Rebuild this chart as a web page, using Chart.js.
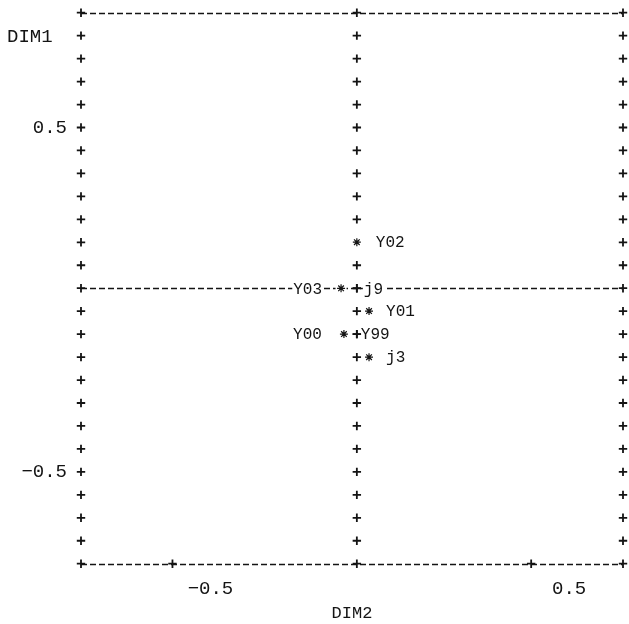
<!DOCTYPE html>
<html>
<head>
<meta charset="utf-8">
<script src="https://cdn.jsdelivr.net/npm/chart.js@4/dist/chart.umd.min.js"></script>
<style>
  html, body { margin: 0; padding: 0; background: #fff; }
  canvas { display: block; }
</style>
</head>
<body>
<canvas id="plot" width="629" height="624"></canvas>
<script>
// Printer-style plot of DIM1 (vertical) against DIM2 (horizontal)

// labelled points drawn with an asterisk
const pointNames = ['Y02', 'Y03', 'Y01', 'Y00', 'j3'];
const pointDim2  = [0.014, -0.030, 0.048, -0.022, 0.048];
const pointDim1  = [0.167, 0.033, -0.033, -0.100, -0.167];

// labelled points that sit on the vertical reference line
const hiddenNames = ['j9', 'Y99'];
const hiddenDim2  = [0.014, 0.014];
const hiddenDim1  = [0.033, -0.100];

// labelled tick values
const xTickValues = [-0.5, 0.5];
const yTickValues = [0.5, -0.5];

// reference lines
const refDim2 = 0.014;
const refDim1 = 0.033;

// axis extents and the printer row step
const xRange = [-0.755, 0.756];
const yRange = [-0.7667, 0.8333];
const rowStep = 1 / 15;

const ink = '#141414';
const mono = "'Liberation Mono', 'DejaVu Sans Mono', monospace";
const labelFont = `16px ${mono}`;

const labelPlacement = {
  Y02: { side: 'right', gap: 19 },
  Y03: { side: 'left',  gap: 19 },
  Y01: { side: 'right', gap: 17 },
  Y00: { side: 'left',  gap: 22 },
  j3:  { side: 'right', gap: 17 },
  j9:  { side: 'right', gap: 7 },
  Y99: { side: 'right', gap: 4 }
};

const fmt = v => (v < 0 ? '\u2212' : '') + Math.abs(v).toFixed(1);

// one printer row per step between the axis limits
function rowValues() {
  const n = Math.round((yRange[1] - yRange[0]) / rowStep);
  return Array.from({ length: n + 1 }, (_, i) => yRange[0] + i * rowStep);
}

function labelItems(chart) {
  const items = [];
  chart.data.datasets.forEach((ds, di) => {
    const meta = chart.getDatasetMeta(di);
    meta.data.forEach((el, i) => {
      const name = ds.names[i];
      const p = labelPlacement[name];
      const right = p.side === 'right';
      items.push({
        text: name,
        px: el.x,
        py: el.y,
        star: ds.pointStyle === 'star',
        x: right ? el.x + p.gap : el.x - p.gap,
        align: right ? 'left' : 'right'
      });
    });
  });
  return items;
}

function plus(ctx, px, py) {
  const h = 4.2;
  ctx.beginPath();
  ctx.moveTo(px - h, py); ctx.lineTo(px + h, py);
  ctx.moveTo(px, py - h); ctx.lineTo(px, py + h);
  ctx.stroke();
}

const printerPlot = {
  id: 'printerPlot',
  beforeDatasetsDraw(chart) {
    const { ctx, chartArea: a, scales: { x, y } } = chart;
    ctx.save();

    // dashed rows: top and bottom frame, horizontal reference
    ctx.strokeStyle = ink;
    ctx.lineWidth = 1.4;
    ctx.setLineDash([6, 3]);
    for (const v of [yRange[1], yRange[0], refDim1]) {
      const py = Math.round(y.getPixelForValue(v)) + 0.5;
      ctx.beginPath();
      ctx.moveTo(a.left, py);
      ctx.lineTo(a.right, py);
      ctx.stroke();
    }
    ctx.setLineDash([]);

    // blank cells behind labels
    ctx.font = labelFont;
    const items = labelItems(chart);
    ctx.fillStyle = '#fff';
    for (const it of items) {
      const w = ctx.measureText(it.text).width;
      const x0 = it.align === 'left' ? it.x : it.x - w;
      ctx.fillRect(x0 - 1, it.py - 8, w + 2, 16);
    }

    // plus marks along the frame and the vertical reference line
    ctx.strokeStyle = ink;
    ctx.lineWidth = 1.8;
    const xv = x.getPixelForValue(refDim2);
    for (const v of rowValues()) {
      const py = y.getPixelForValue(v);
      plus(ctx, a.left, py);
      plus(ctx, a.right, py);
      plus(ctx, xv, py);
    }
    for (const v of xTickValues) plus(ctx, x.getPixelForValue(v), a.bottom);

    // an asterisk replaces whatever occupies its cell
    ctx.fillStyle = '#fff';
    for (const it of items) {
      if (it.star) ctx.fillRect(it.px - 5.5, it.py - 6, 11, 12);
    }

    // point labels
    ctx.fillStyle = ink;
    ctx.textBaseline = 'middle';
    for (const it of items) {
      ctx.textAlign = it.align;
      ctx.fillText(it.text, it.x, it.py + 1);
    }

    // vertical axis name
    ctx.font = `19px ${mono}`;
    ctx.textAlign = 'left';
    ctx.fillText('DIM1', 7, y.getPixelForValue(yRange[1] - rowStep) + 1);

    ctx.restore();
  }
};

new Chart(document.getElementById('plot'), {
  type: 'scatter',
  data: {
    datasets: [
      {
        names: pointNames,
        data: pointNames.map((n, i) => ({ x: pointDim2[i], y: pointDim1[i] })),
        pointStyle: 'star',
        pointRadius: 4,
        borderColor: ink,
        backgroundColor: ink,
        borderWidth: 1.2
      },
      {
        names: hiddenNames,
        data: hiddenNames.map((n, i) => ({ x: hiddenDim2[i], y: hiddenDim1[i] })),
        pointStyle: 'cross',
        pointRadius: 4.2,
        borderColor: ink,
        backgroundColor: ink,
        borderWidth: 1.8
      }
    ]
  },
  options: {
    responsive: false,
    animation: false,
    layout: { padding: { top: 12.7, right: 4, left: 0, bottom: 0 } },
    plugins: { legend: { display: false }, tooltip: { enabled: false } },
    scales: {
      x: {
        type: 'linear',
        min: xRange[0],
        max: xRange[1],
        afterBuildTicks: s => { s.ticks = xTickValues.map(v => ({ value: v })); },
        afterFit: s => { s.height = 60.3; s.paddingLeft = 0; s.paddingRight = 0; },
        grid: { display: false, drawTicks: false },
        border: { display: false },
        ticks: {
          autoSkip: false,
          maxRotation: 0,
          padding: 14,
          labelOffset: 38,
          color: ink,
          font: { family: mono, size: 19 },
          callback: v => fmt(v)
        },
        title: {
          display: true,
          text: 'DIM2',
          color: ink,
          font: { family: mono, size: 17 },
          padding: 0
        }
      },
      y: {
        type: 'linear',
        min: yRange[0],
        max: yRange[1],
        afterBuildTicks: s => { s.ticks = yTickValues.map(v => ({ value: v })); },
        afterFit: s => { s.width = 81; s.paddingTop = 0; s.paddingBottom = 0; },
        grid: { display: false, drawTicks: false },
        border: { display: false },
        ticks: {
          autoSkip: false,
          padding: 14,
          color: ink,
          font: { family: mono, size: 19 },
          callback: v => fmt(v)
        }
      }
    }
  },
  plugins: [printerPlot]
});
</script>
</body>
</html>
